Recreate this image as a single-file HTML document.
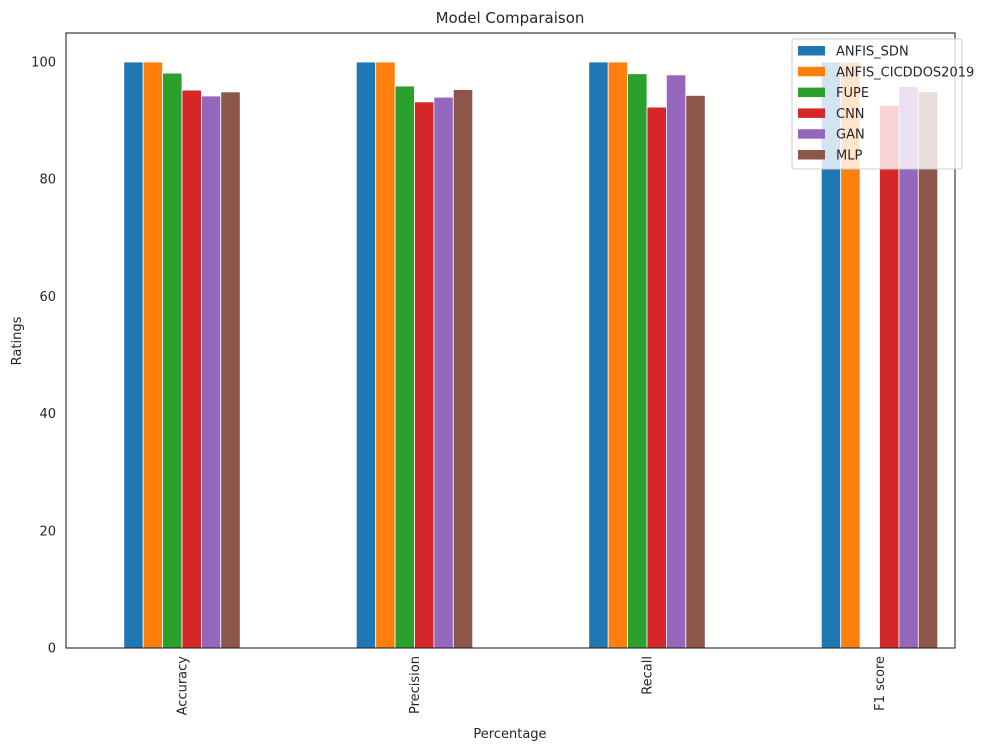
<!DOCTYPE html>
<html><head><meta charset="utf-8"><style>
body{margin:0;background:#fff;font-family:"Liberation Sans","DejaVu Sans",sans-serif;}
svg text{font-family:"DejaVu Sans","Liberation Sans",sans-serif;fill:#262626;}
</style></head><body>
<svg id="chart" width="1005" height="751" xmlns="http://www.w3.org/2000/svg">
<rect width="1005" height="751" fill="#fff"/>
<text x="510" y="23" font-size="15" text-anchor="middle">Model Comparaison</text>
<g id="bars"></g>
<g id="yticks"></g>
<g id="xticks"></g>
<rect x="66" y="33" width="889" height="615" fill="none" stroke="#262626" stroke-width="1.1"/>
<text transform="translate(21,341) rotate(-90)" font-size="13" text-anchor="middle">Ratings</text>
<text x="510" y="738" font-size="13" text-anchor="middle">Percentage</text>
<g id="legend"></g>
</svg>
<script>
const categories=["Accuracy","Precision","Recall","F1 score"];
const seriesNames=["ANFIS_SDN","ANFIS_CICDDOS2019","FUPE","CNN","GAN","MLP"];
const colors=["#1f77b4","#ff7f0e","#2ca02c","#d62728","#9467bd","#8c564b"];
const anfisSdn=[100,100,100,100];
const anfisCic=[100,100,100,100];
const fupe=[98.1,95.9,98.0,0];
const cnn=[95.2,93.2,92.3,92.6];
const gan=[94.2,94.0,97.8,95.8];
const mlp=[94.9,95.3,94.3,94.9];
const series=[anfisSdn,anfisCic,fupe,cnn,gan,mlp];
const yTicks=[0,20,40,60,80,100];
const NS="http://www.w3.org/2000/svg";
const y=v=>648-v*5.86;
const xc=i=>182+i*232.5;
const bw=19.4;
function mk(t,a,p){const e=document.createElementNS(NS,t);for(const k in a)e.setAttribute(k,a[k]);p.appendChild(e);return e;}
const gb=document.getElementById('bars');
series.forEach((s,si)=>{s.forEach((v,ci)=>{
 const r=mk('rect',{x:xc(ci)+(si-3)*bw,y:y(v),width:bw,height:648-y(v),fill:colors[si],stroke:'#fff','stroke-width':0.8},gb);
 
 
});});
const gy=document.getElementById('yticks');
yTicks.forEach(t=>{const e=mk('text',{x:56,y:y(t)+4.5,'font-size':13,'text-anchor':'end'},gy);e.textContent=t;
 
 });
const gx=document.getElementById('xticks');
categories.forEach((c,i)=>{const e=mk('text',{transform:`translate(${xc(i)+4.5},656) rotate(-90)`,'font-size':13,'text-anchor':'end'},gx);e.textContent=c;
 
 });
const gl=document.getElementById('legend');
mk('rect',{x:792,y:39,width:170,height:130,rx:3,fill:'#fff','fill-opacity':0.8,stroke:'#ccc'},gl);
seriesNames.forEach((n,i)=>{const yy=51+i*20.8;
 const p=mk('rect',{x:798,y:yy-5,width:27,height:9.5,fill:colors[i]},gl);
 
 
 const t=mk('text',{x:836,y:yy+4.5,'font-size':13},gl);t.textContent=n;
 
 });
</script>
</body></html>
